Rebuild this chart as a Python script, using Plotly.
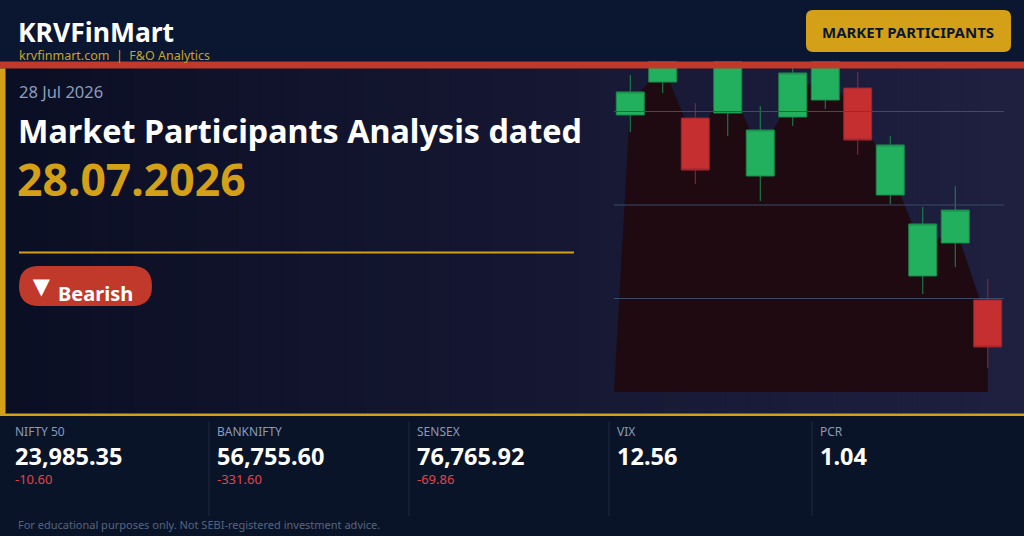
import plotly.graph_objects as go

W, H = 1024, 536
FONT = "Noto Sans"

# ---- daily candles, 13-28 Jul 2026 ----
days = ["13 Jul", "14 Jul", "15 Jul", "16 Jul", "17 Jul", "20 Jul",
        "21 Jul", "22 Jul", "23 Jul", "24 Jul", "27 Jul", "28 Jul"]
opens = [24236.3, 24271.5, 24233.0, 24238.4, 24171.0, 24234.1,
         24252.3, 24265.1, 24150.7, 24064.1, 24099.4, 24038.4]
highs = [24279.0, 24316.5, 24249.1, 24321.8, 24245.9, 24292.9,
         24318.6, 24282.2, 24213.8, 24137.9, 24160.3, 24060.9]
lows = [24218.1, 24259.8, 24162.5, 24213.8, 24144.3, 24224.5,
        24242.7, 24193.5, 24141.1, 24044.8, 24073.7, 23965.7]
closes = [24260.9, 24306.8, 24177.4, 24309.0, 24220.2, 24281.2,
          24307.9, 24209.5, 24204.2, 24119.7, 24134.6, 23988.1]
price_range = [23940, 24340]
grid_levels = [24040, 24140, 24240]

# ---- index strip ----
stat_names = ["NIFTY 50", "BANKNIFTY", "SENSEX", "VIX", "PCR"]
stat_values = [23985.35, 56755.60, 76765.92, 12.56, 1.04]
stat_changes = [-10.60, -331.60, -69.86, None, None]

report_date = "28 Jul 2026"
headline = "Market Participants Analysis dated"
headline_date = "28.07.2026"
bias = "Bearish"

GOLD = "#d4a017"
RED = "#c0392b"


def pp(x, y):
    # pixel -> paper coords
    return x / W, 1 - y / H


def rect(x0, y0, x1, y1, color, layer="above"):
    a, b = pp(x0, y0)
    c, d = pp(x1, y1)
    return dict(type="rect", xref="paper", yref="paper", x0=a, y0=d, x1=c, y1=b,
                fillcolor=color, line=dict(width=0), layer=layer)


def rrect(x0, y0, x1, y1, r, color):
    pts = [("M", x0 + r, y0), ("L", x1 - r, y0), ("Q", x1, y0, x1, y0 + r),
           ("L", x1, y1 - r), ("Q", x1, y1, x1 - r, y1), ("L", x0 + r, y1),
           ("Q", x0, y1, x0, y1 - r), ("L", x0, y0 + r), ("Q", x0, y0, x0 + r, y0)]
    path = ""
    for p in pts:
        coords = []
        for i in range(1, len(p), 2):
            a, b = pp(p[i], p[i + 1])
            coords.append(f"{a:.5f},{b:.5f}")
        path += p[0] + " " + " ".join(coords) + " "
    return dict(type="path", xref="paper", yref="paper", path=path + "Z",
                fillcolor=color, line=dict(width=0), layer="above")


def text(x, y, s, size, color, bold=False, anchor="left"):
    a, b = pp(x, y)
    return dict(x=a, y=b, xref="paper", yref="paper", text=s, showarrow=False,
                xanchor=anchor, yanchor="middle",
                font=dict(family=FONT, size=size, color=color,
                          weight="bold" if bold else "normal"))


idx = list(range(len(closes)))
mids = [(o + c) / 2 for o, c in zip(opens, closes)]
x_range = [idx[0] - 0.5, idx[-1] + 0.5]

fig = go.Figure()

# shaded area under the body mid-points (bottom subplot)
fig.add_trace(go.Scatter(
    x=[x_range[0]] + idx + [idx[-1]],
    y=[price_range[0]] + mids + [price_range[0]],
    mode="lines", fill="toself", fillcolor="#1f0a12",
    line=dict(width=0), hoverinfo="skip", showlegend=False
))

# candles on an overlaying subplot so they sit above the area
fig.add_trace(go.Candlestick(
    x=idx, open=opens, high=highs, low=lows, close=closes,
    text=days, whiskerwidth=0, showlegend=False,
    xaxis="x2", yaxis="y2",
    increasing=dict(fillcolor="#22b05f", line=dict(color="#1b8a4b", width=1)),
    decreasing=dict(fillcolor="#c62f2f", line=dict(color="#9a2630", width=1)),
))

shapes = []
# panel background gradient (left dark -> right purple)
n = 48
c0, c1 = (11, 15, 36), (31, 31, 64)
step = (W - 5) / n
for i in range(n):
    t = i / (n - 1)
    col = "rgb(%d,%d,%d)" % tuple(round(c0[k] + (c1[k] - c0[k]) * t) for k in range(3))
    shapes.append(rect(5 + i * step, 68, 5 + (i + 1) * step + 1, 414, col, layer="below"))

# grid lines drawn over the candles
for g in grid_levels:
    shapes.append(dict(type="line", xref="x domain", yref="y", x0=0, x1=1, y0=g, y1=g,
                       line=dict(color="#3b4b68", width=1), layer="above"))

# header, red rule, side bar, bottom rule
shapes.append(rect(0, 0, W, 61.5, "#0b1631"))
shapes.append(rect(0, 61.5, W, 68.5, RED))
shapes.append(rrect(806, 10, 1011, 52, 7, GOLD))
shapes.append(rect(0, 68.5, 5.5, 414, GOLD))
shapes.append(rect(0, 413.5, W, 416, GOLD))
shapes.append(rect(19, 251.5, 574, 253.5, GOLD))
shapes.append(rrect(19, 266, 152, 306, 20, RED))

# separators in the index strip
col_x = [15, 217, 417, 617, 820]
for x in col_x[1:]:
    a, b = pp(x - 8, 422)
    _, d = pp(x - 8, 516)
    shapes.append(dict(type="line", xref="paper", yref="paper", x0=a, x1=a, y0=d, y1=b,
                       line=dict(color="#1f2b45", width=1), layer="below"))

ann = [
    text(16, 31.5, "KRVFinMart", 26.5, "white", bold=True),
    text(17, 55, "krvfinmart.com  |  F&O Analytics", 12.5, "#c9a227"),
    text(908, 31.5, "MARKET PARTICIPANTS", 15, "#0b1631", bold=True, anchor="center"),
    text(17, 91, report_date, 16.5, "#8d9dbb"),
    text(16, 130, headline, 32.3, "white", bold=True),
    text(15, 179, headline_date, 44.5, GOLD, bold=True),
    text(41.5, 284, "▼", 29, "white", anchor="center"),
    text(56, 293, bias, 20, "white", bold=True),
    text(16, 524, "For educational purposes only. Not SEBI-registered investment advice.",
         11, "#56647f"),
]
for x, name, val, chg in zip(col_x, stat_names, stat_values, stat_changes):
    ann.append(text(x - 2, 431, name, 12, "#8a9ab8"))
    ann.append(text(x - 2, 455.5, f"{val:,.2f}", 23.5, "white", bold=True))
    if chg is not None:
        ann.append(text(x - 2, 479, f"{chg:,.2f}", 13, "#e0444a"))

axis_x = dict(domain=[614 / W, 1004 / W], range=x_range, visible=False,
              rangeslider=dict(visible=False), fixedrange=True)
axis_y = dict(domain=[1 - 392 / H, 1 - 18 / H], range=price_range, visible=False,
              fixedrange=True)

fig.update_layout(
    width=W, height=H,
    margin=dict(l=0, r=0, t=0, b=0),
    paper_bgcolor="#0a1429",
    plot_bgcolor="rgba(0,0,0,0)",
    boxgap=0.14,
    boxgroupgap=0,
    xaxis=axis_x,
    yaxis=axis_y,
    xaxis2=dict(axis_x, overlaying="x", anchor="y2"),
    yaxis2=dict(axis_y, overlaying="y", anchor="x2"),
    shapes=shapes,
    annotations=ann,
    showlegend=False,
)

fig.write_html("out.html", config={"displayModeBar": False},
               post_script="document.body.style.margin='0';document.body.style.overflow='hidden';")
